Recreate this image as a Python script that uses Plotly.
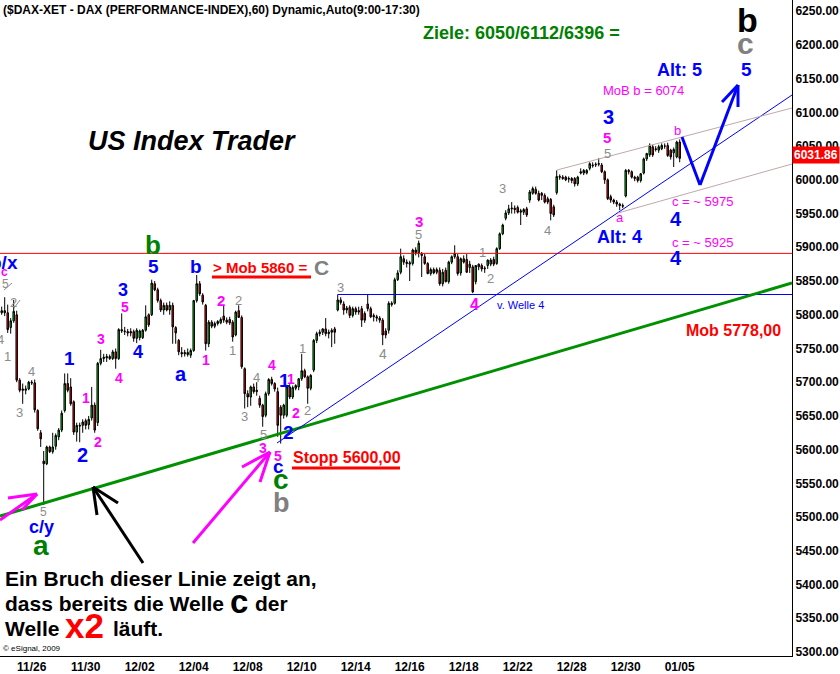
import plotly.graph_objects as go

# ---------------- data ----------------
tick_labels = ["11/26", "11/30", "12/02", "12/04", "12/08", "12/10", "12/14",
               "12/16", "12/18", "12/22", "12/28", "12/30", "01/05"]

opens = [
    5803, 5806, 5803, 5781, 5791, 5800, 5703, 5690, 5688,
    5690, 5700, 5699, 5658, 5625, 5583, 5579, 5604, 5597,
    5605, 5619, 5629, 5658, 5698, 5693, 5671, 5626, 5636,
    5636, 5643, 5637, 5647, 5666, 5640, 5728, 5735, 5736,
    5738, 5735, 5745, 5735, 5778, 5776, 5775, 5773, 5775,
    5765, 5766, 5766, 5777, 5800, 5800, 5846, 5837, 5821,
    5807, 5814, 5807, 5814, 5781, 5762, 5744, 5742, 5744,
    5740, 5747, 5821, 5846, 5829, 5814, 5757, 5789, 5783,
    5787, 5788, 5798, 5792, 5793, 5789, 5770, 5806, 5796,
    5720, 5683, 5678, 5693, 5686, 5676, 5666, 5651, 5683,
    5704, 5698, 5686, 5663, 5651, 5651, 5693, 5678, 5691,
    5693, 5705, 5717, 5708, 5691, 5718, 5762, 5772, 5774,
    5779, 5772, 5774, 5779, 5807, 5822, 5816, 5807, 5811,
    5799, 5809, 5804, 5809, 5802, 5816, 5809, 5799, 5797,
    5795, 5792, 5776, 5777, 5815, 5817, 5852, 5863, 5883,
    5878, 5875, 5876, 5896, 5892, 5890, 5886, 5876, 5861,
    5867, 5863, 5866, 5846, 5866, 5849, 5878, 5886, 5886,
    5862, 5883, 5882, 5870, 5871, 5849, 5871, 5873, 5868,
    5873, 5875, 5882, 5876, 5898, 5920, 5943, 5951, 5957,
    5958, 5959, 5952, 5952, 5957, 5970, 5980, 5986, 5980,
    5980, 5977, 5972, 5971, 5960, 5981, 6005, 6004, 6004,
    6001, 6002, 6002, 5994, 6012, 6010, 6010, 6017, 6022,
    6022, 6023, 6022, 6012, 6000, 5975, 5970, 5967, 5964,
    5962, 5976, 6012, 6012, 6004, 6004, 5999, 6010, 6031,
    6037, 6049, 6046, 6044, 6046, 6050, 6051, 6044, 6040,
    6034, 6056]

highs = [
    5812, 5826, 5815, 5795, 5822, 5806, 5706, 5698, 5695,
    5702, 5703, 5704, 5660, 5629, 5598, 5606, 5606, 5625,
    5624, 5632, 5658, 5713, 5713, 5706, 5673, 5640, 5640,
    5645, 5646, 5650, 5693, 5670, 5730, 5748, 5742, 5742,
    5741, 5748, 5750, 5780, 5802, 5782, 5779, 5780, 5778,
    5780, 5778, 5779, 5814, 5802, 5852, 5850, 5840, 5824,
    5818, 5818, 5820, 5818, 5783, 5764, 5752, 5748, 5750,
    5750, 5822, 5859, 5850, 5832, 5816, 5792, 5792, 5790,
    5792, 5796, 5814, 5796, 5797, 5792, 5806, 5814, 5799,
    5722, 5688, 5695, 5698, 5700, 5680, 5668, 5686, 5706,
    5708, 5700, 5692, 5666, 5668, 5696, 5697, 5695, 5697,
    5706, 5742, 5720, 5710, 5712, 5764, 5775, 5778, 5780,
    5795, 5778, 5780, 5782, 5830, 5826, 5820, 5813, 5814,
    5812, 5812, 5812, 5813, 5805, 5830, 5812, 5802, 5800,
    5798, 5795, 5780, 5820, 5820, 5855, 5866, 5898, 5888,
    5882, 5880, 5898, 5900, 5910, 5893, 5890, 5878, 5870,
    5870, 5870, 5870, 5868, 5870, 5880, 5888, 5903, 5890,
    5885, 5888, 5890, 5880, 5874, 5872, 5876, 5876, 5872,
    5882, 5884, 5886, 5900, 5922, 5935, 5955, 5963, 5967,
    5962, 5962, 5957, 5958, 5960, 5985, 5990, 5990, 5984,
    5982, 5980, 5975, 5973, 5963, 6014, 6008, 6007, 6006,
    6005, 6004, 6004, 6006, 6017, 6016, 6016, 6026, 6026,
    6026, 6032, 6025, 6014, 6002, 5978, 5972, 5970, 5966,
    5965, 6016, 6016, 6014, 6006, 6006, 6010, 6033, 6040,
    6054, 6052, 6050, 6052, 6054, 6054, 6055, 6046, 6048,
    6058, 6060]

lows = [
    5800, 5798, 5773, 5772, 5788, 5700, 5685, 5668, 5682,
    5688, 5696, 5655, 5628, 5604, 5518, 5577, 5595, 5594,
    5600, 5614, 5626, 5655, 5685, 5665, 5622, 5612, 5611,
    5625, 5630, 5630, 5643, 5625, 5635, 5725, 5730, 5730,
    5733, 5733, 5720, 5733, 5773, 5770, 5768, 5768, 5760,
    5758, 5762, 5764, 5775, 5782, 5798, 5835, 5818, 5804,
    5800, 5805, 5800, 5757, 5757, 5740, 5737, 5738, 5738,
    5736, 5745, 5818, 5828, 5815, 5747, 5752, 5780, 5780,
    5784, 5786, 5788, 5786, 5785, 5760, 5768, 5796, 5720,
    5661, 5663, 5665, 5683, 5680, 5662, 5634, 5648, 5680,
    5695, 5686, 5619, 5609, 5646, 5648, 5675, 5675, 5688,
    5688, 5702, 5706, 5668, 5688, 5715, 5758, 5768, 5770,
    5768, 5765, 5752, 5757, 5805, 5815, 5800, 5802, 5795,
    5796, 5800, 5800, 5782, 5788, 5805, 5795, 5790, 5790,
    5788, 5755, 5765, 5772, 5812, 5815, 5850, 5860, 5874,
    5870, 5850, 5873, 5888, 5885, 5856, 5874, 5860, 5858,
    5860, 5860, 5843, 5842, 5848, 5846, 5875, 5883, 5858,
    5858, 5876, 5862, 5862, 5832, 5845, 5866, 5864, 5862,
    5868, 5872, 5872, 5874, 5896, 5918, 5940, 5948, 5950,
    5950, 5950, 5933, 5948, 5945, 5966, 5978, 5978, 5968,
    5970, 5965, 5964, 5940, 5945, 5978, 6000, 6000, 5998,
    5996, 5995, 5990, 5991, 6008, 6007, 6008, 6014, 6018,
    6019, 6020, 6010, 5994, 5970, 5966, 5964, 5960, 5955,
    5958, 5974, 6008, 6002, 5998, 5996, 5996, 6008, 6028,
    6034, 6034, 6042, 6040, 6044, 6046, 6034, 6030, 6019,
    6032, 6026]

closes = [
    5806, 5803, 5778, 5791, 5805, 5703, 5688, 5688, 5690,
    5700, 5699, 5659, 5631, 5616, 5579, 5604, 5597, 5604,
    5621, 5629, 5654, 5698, 5688, 5668, 5626, 5636, 5635,
    5641, 5636, 5645, 5666, 5629, 5728, 5735, 5737, 5738,
    5735, 5745, 5735, 5778, 5776, 5775, 5773, 5775, 5765,
    5777, 5776, 5777, 5797, 5785, 5847, 5837, 5821, 5807,
    5814, 5807, 5814, 5782, 5773, 5745, 5742, 5744, 5741,
    5747, 5821, 5846, 5831, 5819, 5757, 5789, 5783, 5787,
    5790, 5793, 5792, 5789, 5788, 5767, 5804, 5796, 5723,
    5683, 5678, 5693, 5686, 5688, 5666, 5649, 5683, 5704,
    5698, 5690, 5636, 5651, 5666, 5693, 5678, 5692, 5695,
    5705, 5717, 5708, 5691, 5710, 5762, 5772, 5774, 5779,
    5772, 5774, 5777, 5774, 5822, 5818, 5807, 5810, 5799,
    5809, 5804, 5806, 5792, 5792, 5809, 5797, 5797, 5795,
    5792, 5770, 5770, 5817, 5817, 5852, 5862, 5886, 5878,
    5876, 5877, 5896, 5892, 5906, 5888, 5876, 5861, 5867,
    5862, 5867, 5846, 5863, 5849, 5878, 5886, 5891, 5861,
    5883, 5878, 5863, 5875, 5834, 5873, 5875, 5868, 5869,
    5881, 5881, 5875, 5898, 5920, 5933, 5951, 5957, 5958,
    5956, 5952, 5954, 5956, 5948, 5982, 5987, 5980, 5970,
    5977, 5967, 5967, 5950, 5948, 6005, 6004, 6002, 6000,
    6002, 5999, 5994, 6004, 6010, 6014, 6014, 6024, 6021,
    6023, 6024, 6012, 6000, 5972, 5970, 5967, 5964, 5962,
    5961, 6014, 6014, 6004, 6002, 5999, 6009, 6031, 6039,
    6051, 6037, 6045, 6049, 6051, 6050, 6036, 6034, 6045,
    6056, 6031.86]

price_ticks = list(range(5300, 6251, 50))

# ---------------- geometry helpers ----------------
W, H = 840, 674
ML, MR, MT, MB = 0, 48, 0, 18
PW, PH = W - ML - MR, H - MT - MB          # plot area 792 x 656
Y_TOP, Y_BOT = 6266.6, 5294.1
BAR_PX, BAR0_PX = 3.0, 1.7
X_LEFT = (0 - BAR0_PX) / BAR_PX
X_RIGHT = (PW - BAR0_PX) / BAR_PX


def xp(px):
    return px / PW


def yp(py):
    return 1 - py / PH


def px2x(px):
    return (px - BAR0_PX) / BAR_PX


def py2y(py):
    return Y_TOP - (Y_TOP - Y_BOT) * py / PH


FONT = "Liberation Sans, Arial, sans-serif"
BLUE = "#0000FF"
MAG = "#FF00FF"
GRAY = "#8C8C8C"
GREEN = "#008000"
RED = "#FF0000"

x_idx = list(range(len(closes)))
tickvals = [10 + 18 * k for k in range(len(tick_labels))]

fig = go.Figure()
fig.add_trace(go.Candlestick(
    x=x_idx, open=opens, high=highs, low=lows, close=closes,
    increasing=dict(line=dict(color="black", width=1), fillcolor="#00CC00"),
    decreasing=dict(line=dict(color="black", width=1), fillcolor="#FF0000"),
    whiskerwidth=0, hoverinfo="skip", showlegend=False,
))

shapes = []


def seg(x0, y0, x1, y1, color, width, dash="solid"):
    shapes.append(dict(type="line", xref="paper", yref="paper",
                       x0=xp(x0), y0=yp(y0), x1=xp(x1), y1=yp(y1),
                       line=dict(color=color, width=width, dash=dash)))


def dline(px0, py0, px1, py1, color, width):
    shapes.append(dict(type="line", xref="x", yref="y",
                       x0=px2x(px0), y0=py2y(py0), x1=px2x(px1), y1=py2y(py1),
                       line=dict(color=color, width=width)))


# horizontal levels
shapes.append(dict(type="line", xref="x", yref="y", x0=X_LEFT, x1=X_RIGHT,
                   y0=5891, y1=5891, line=dict(color=RED, width=1)))
shapes.append(dict(type="line", xref="x", yref="y", x0=112, x1=X_RIGHT,
                   y0=5830, y1=5830, line=dict(color=BLUE, width=1)))
# trend lines
dline(0, 516, 792, 283, "#009000", 3)
dline(277, 443, 792, 95, BLUE, 1)
dline(557, 170, 792, 108, "#C0A8A8", 1)
dline(618, 213, 792, 164, "#C0A8A8", 1)
# small gray stubs top-left
seg(4, 290, 12, 283, GRAY, 1)
seg(14, 308, 20, 300, GRAY, 1)

# blue projected zigzag with arrow head
seg(682, 137, 700, 185, BLUE, 3)
seg(700, 185, 738, 85, BLUE, 3)
seg(738, 85, 722, 102, BLUE, 3)
seg(738, 85, 738, 107, BLUE, 3)

# magenta arrow bottom-left
seg(0, 520, 37, 494, MAG, 3)
seg(37, 494, 8, 498, MAG, 3)
seg(37, 494, 22, 510, MAG, 3)
# black arrow
seg(143, 563, 93, 487, "black", 3)
seg(93, 487, 97, 515, "black", 3)
seg(93, 487, 118, 503, "black", 3)
# magenta arrow centre
seg(193, 543, 270, 452, MAG, 3)
seg(270, 452, 242, 467, MAG, 3)
seg(270, 452, 260, 482, MAG, 3)

# underlines
seg(212, 277, 311, 277, RED, 3)
seg(292, 468, 400, 468, RED, 3)

anns = []


def label(text, px, py, color, size, bold=True, anchor="center", italic=False):
    anns.append(dict(text=text, x=xp(px), y=yp(py), xref="paper", yref="paper",
                     xanchor=anchor, yanchor="middle", showarrow=False,
                     font=dict(family=FONT, size=size, color=color,
                               weight="bold" if bold else "normal",
                               style="italic" if italic else "normal")))


label("($DAX-XET - DAX (PERFORMANCE-INDEX),60) Dynamic,Auto(9:00-17:30)", 1, 10, "black", 12, anchor="left")
label("US Index Trader", 192, 141, "black", 27, italic=True)
label("Ziele: 6050/6112/6396 =", 421, 33, GREEN, 18, anchor="left")

label("b", 747, 20, "black", 34)
label("c", 745, 43, "#808080", 30)
label("5", 746, 70, BLUE, 19)
label("Alt: 5", 679, 70, BLUE, 18)
label("MoB b = 6074", 643, 90, MAG, 13, bold=False)
label("3", 608, 117, BLUE, 20)
label("5", 607, 137, MAG, 15)
label("5", 607, 153, GRAY, 13, bold=False)
label("b", 677, 130, MAG, 13, bold=False)
label("c = ~ 5975", 702, 202, MAG, 13, bold=False)
label("4", 676, 219, BLUE, 20)
label("a", 620, 218, MAG, 13, bold=False)
label("Alt: 4", 619, 237, BLUE, 18)
label("c = ~ 5925", 702, 242, MAG, 13, bold=False)
label("4", 676, 258, BLUE, 20)

label("3", 419, 222, MAG, 15)
label("5", 418, 235, GRAY, 13, bold=False)
label("3", 502, 188, GRAY, 13, bold=False)
label("4", 547, 230, GRAY, 13, bold=False)
label("1", 482, 252, GRAY, 13, bold=False)
label("2", 490, 278, GRAY, 13, bold=False)
label("4", 475, 304, MAG, 16)
label("v. Welle 4", 495, 305, BLUE, 11, bold=False, anchor="left")
label("3", 340, 287, GRAY, 13, bold=False)
label("4", 383, 354, GRAY, 14, bold=False)

label("> Mob 5860 =", 211, 267, RED, 15, anchor="left")
label("C", 321, 268, "#808080", 21)
label("b", 153, 245, GREEN, 26)
label("5", 153, 266, BLUE, 19)
label("b", 196, 266, BLUE, 19)
label("3", 123, 290, BLUE, 18)
label("5", 125, 307, MAG, 14)
label("4", 138, 352, BLUE, 18)
label("3", 101, 339, MAG, 14)
label("4", 119, 378, MAG, 14)
label("1", 69, 358, BLUE, 19)
label("1", 86, 398, MAG, 14)
label("2", 82, 455, BLUE, 20)
label("2", 98, 442, MAG, 14)
label("a", 181, 374, BLUE, 20)
label("1", 206, 360, MAG, 14)
label("2", 221, 300, MAG, 15)
label("2", 238, 300, GRAY, 13, bold=False)
label("1", 233, 350, GRAY, 13, bold=False)
label("4", 272, 365, MAG, 14)
label("4", 256, 377, GRAY, 13, bold=False)
label("3", 244, 417, GRAY, 13, bold=False)
label("1", 284, 380, BLUE, 19)
label("1", 291, 379, MAG, 14)
label("1", 302, 348, GRAY, 13, bold=False)
label("2", 296, 413, MAG, 14)
label("2", 307, 410, GRAY, 13, bold=False)
label("2", 288, 432, BLUE, 19)
label("5", 263, 434, GRAY, 13, bold=False)
label("3", 263, 448, MAG, 14)
label("5", 278, 456, MAG, 14)
label("c", 278, 466, BLUE, 19)
label("c", 281, 479, GREEN, 28)
label("b", 281, 503, "#808080", 27)
label("Stopp 5600,00", 291, 457, RED, 16, anchor="left")

label("b/x", 20, 262, BLUE, 19, anchor="right")
label("c", 4, 272, MAG, 12)
label("5", 5, 284, GRAY, 12, bold=False)
label("2", 13, 302, GRAY, 13, bold=False)
label("4", 0, 339, GRAY, 13, bold=False)
label("1", 7, 356, GRAY, 13, bold=False)
label("4", 31, 372, GRAY, 13, bold=False)
label("3", 19, 413, GRAY, 13, bold=False)
label("5", 43, 512, GRAY, 12, bold=False)
label("c/y", 41, 527, BLUE, 18)
label("a", 41, 545, GREEN, 28)

label("Mob 5778,00", 684, 331, RED, 16, anchor="left")

label("Ein Bruch dieser Linie zeigt an,", 3, 578, "black", 21, anchor="left")
label("dass bereits die Welle", 3, 603, "black", 21, anchor="left")
label("c", 228, 601, "black", 33, anchor="left")
label("der", 253, 603, "black", 21, anchor="left")
label("Welle", 3, 628, "black", 21, anchor="left")
label("x2", 63, 625, RED, 35, anchor="left")
label("läuft.", 111, 628, "black", 21, anchor="left")
label("© eSignal, 2009", 1, 648, "black", 8, bold=False, anchor="left")

# last value box on the price axis
anns.append(dict(text=f"{closes[-1]:.2f}", x=1.0, y=closes[-1], xref="paper", yref="y",
                 xanchor="left", yanchor="middle", yshift=3, showarrow=False,
                 bgcolor=RED, borderpad=1,
                 font=dict(family=FONT, size=12, color="white", weight="bold")))

fig.update_layout(
    width=W, height=H,
    margin=dict(l=ML, r=MR, t=MT, b=MB, pad=0),
    paper_bgcolor="white", plot_bgcolor="white",
    showlegend=False, shapes=shapes, annotations=anns,
    font=dict(family=FONT, color="black"),
    xaxis=dict(range=[X_LEFT, X_RIGHT], rangeslider=dict(visible=False),
               tickmode="array", tickvals=tickvals, ticktext=tick_labels,
               showgrid=False, zeroline=False, showline=True, linecolor="black",
               linewidth=1, ticks="", ticklabelstandoff=0,
               tickfont=dict(family=FONT, size=12, color="black", weight="bold")),
    yaxis=dict(range=[Y_BOT, Y_TOP], side="right",
               tickmode="array", tickvals=price_ticks,
               ticktext=[f"{v:.2f}" for v in price_ticks],
               showgrid=False, zeroline=False, showline=True, linecolor="black",
               linewidth=1, ticks="", ticklabelstandoff=0,
               tickfont=dict(family=FONT, size=12, color="black", weight="bold")),
)

fig.write_html(
    "out.html",
    config={"displayModeBar": False},
    post_script="document.body.style.margin='0';document.body.style.overflow='hidden';",
)
